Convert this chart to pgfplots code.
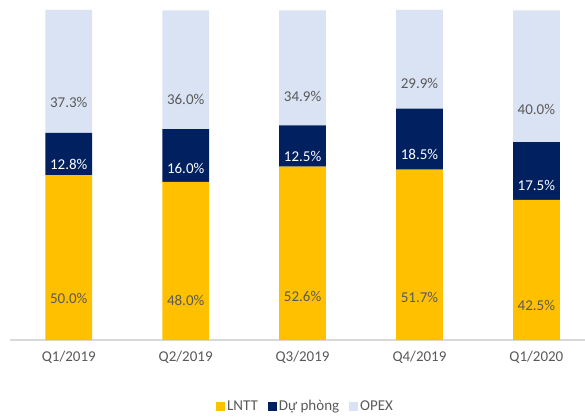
\documentclass[border=0pt]{standalone}
\usepackage{pgfplots}
\pgfplotsset{compat=1.18}
\usepackage{fontspec}
\setmainfont{Carlito}
\definecolor{lntt}{HTML}{FFC000}
\definecolor{duphong}{HTML}{002060}
\definecolor{opex}{HTML}{DAE3F3}
\definecolor{txtgray}{HTML}{595959}

% shift for labels in the middle of each block (the style is applied twice)
\pgfplotsset{
  half seg/.code={
    \pgfkeys{/pgf/fpu=true,/pgf/fpu/output format=fixed}
    \pgfmathsetmacro\halfseg{\pgfplotspointmeta*0.8242}
    \pgfkeys{/pgf/fpu=false}
  },
}

\begin{document}
\begin{tikzpicture}
  \begin{axis}[
    at={(0,0)}, anchor=south west,
    scale only axis, width=575pt, height=330pt,
    ybar stacked, bar width=0.4,
    xmin=-0.503, xmax=4.416, ymin=0, ymax=100.1,
    axis y line=none, axis x line*=bottom,
    x axis line style={draw=gray!30, line width=1.5pt},
    xtick={0,1,2,3,4},
    xticklabels={Q1/2019,Q2/2019,Q3/2019,Q4/2019,Q1/2020},
    xtick style={draw=none},
    xticklabel style={font=\fontsize{15}{18}\selectfont, text=txtgray, yshift=-8pt},
    /pgf/number format/assume math mode=true,
    point meta=rawy,
    nodes near coords={\pgfmathprintnumber[fixed,fixed zerofill,precision=1]{\pgfplotspointmeta}\%},
    every node near coord/.append style={font=\fontsize{15}{18}\selectfont, anchor=center, /pgfplots/half seg, yshift=-\halfseg pt},
    legend columns=3,
    legend style={draw=none, fill=none, font=\fontsize{15}{18}\selectfont, text=txtgray,
      at={(rel axis cs:0.514,0)}, anchor=center, yshift=-66pt,
      /tikz/every even column/.append style={column sep=8pt}},
    legend image code/.code={\fill[#1] (0pt,-4.5pt) rectangle (9pt,4.5pt);},
  ]
    \addplot[fill=lntt, draw=none, every node near coord/.append style={text=txtgray}]
      coordinates {(0,50.0) (1,48.0) (2,52.6) (3,51.7) (4,42.5)};
    \addplot[fill=duphong, draw=none, every node near coord/.append style={text=white}]
      coordinates {(0,12.8) (1,16.0) (2,12.5) (3,18.5) (4,17.5)};
    \addplot[fill=opex, draw=none, every node near coord/.append style={text=txtgray}]
      coordinates {(0,37.3) (1,36.0) (2,34.9) (3,29.9) (4,40.0)};
    \legend{LNTT, Dự phòng, OPEX}
  \end{axis}
  \pgfresetboundingbox
  \useasboundingbox (-10pt,-77pt) rectangle (575pt,340pt);
\end{tikzpicture}
\end{document}
